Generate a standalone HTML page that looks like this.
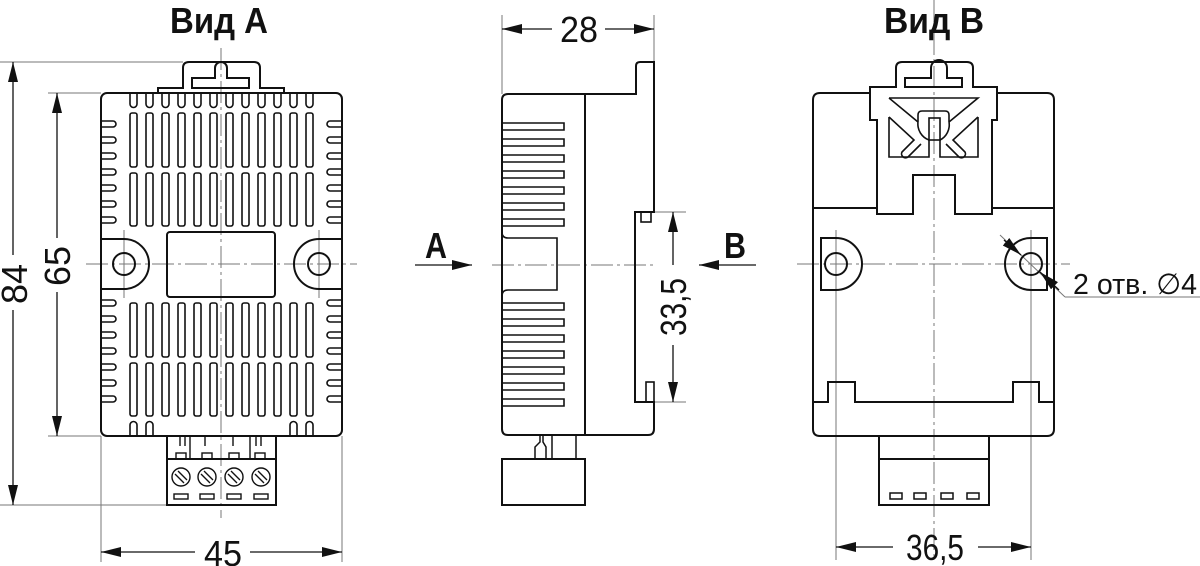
<!DOCTYPE html>
<html><head><meta charset="utf-8"><style>
html,body{margin:0;padding:0;background:#fff;width:1200px;height:566px;overflow:hidden}
svg{display:block}
text{font-family:"Liberation Sans",sans-serif;fill:#111}
</style></head><body>
<svg width="1200" height="566" viewBox="0 0 1200 566" xmlns="http://www.w3.org/2000/svg">
<defs>
<marker id="ar" viewBox="0 0 20 10" refX="20" refY="5" markerWidth="20" markerHeight="10" markerUnits="userSpaceOnUse" orient="auto-start-reverse"><path d="M0,0L20,5L0,10z" fill="#111"/></marker>
</defs>
<g fill="none" stroke="#111">
<!-- ============ LEFT VIEW ============ -->
<g stroke-width="1" stroke="#777">
<line x1="221" y1="48" x2="221" y2="518" stroke-dasharray="22,4,3,4"/>
<line x1="86" y1="264" x2="357" y2="264" stroke-dasharray="22,4,3,4"/>
<line x1="124" y1="230" x2="124" y2="298"/><line x1="319" y1="230" x2="319" y2="298"/>
<line x1="0" y1="62" x2="183" y2="62"/><line x1="0" y1="505" x2="167" y2="505"/>
<line x1="48" y1="93" x2="101" y2="93"/><line x1="48" y1="436" x2="101" y2="436"/>
<line x1="101" y1="436" x2="101" y2="562"/><line x1="342" y1="436" x2="342" y2="562"/>
</g>
<g stroke-width="1.3">
<line x1="13" y1="62" x2="13" y2="255" marker-start="url(#ar)"/><line x1="13" y1="310" x2="13" y2="505" marker-end="url(#ar)"/>
<line x1="57" y1="93" x2="57" y2="238" marker-start="url(#ar)"/><line x1="57" y1="292" x2="57" y2="436" marker-end="url(#ar)"/>
<line x1="101" y1="552" x2="195" y2="552" marker-start="url(#ar)"/><line x1="250" y1="552" x2="342" y2="552" marker-end="url(#ar)"/>
</g>
<g stroke-width="2">
<rect x="101" y="93" width="241" height="343" rx="6"/>
<path d="M158,93V88H183V68Q183,62 189,62H254Q260,62 260,68V88H284V93"/>
<path d="M192,88V78H215V68A6,6 0 0 1 227,68V78H249V88Z"/>
<g stroke-width="1.6">
<path d="M130,94v10a3.5,3.5 0 0 0 7,0v-10M146,94v10a3.5,3.5 0 0 0 7,0v-10M162,94v10a3.5,3.5 0 0 0 7,0v-10M178,94v10a3.5,3.5 0 0 0 7,0v-10M194,94v10a3.5,3.5 0 0 0 7,0v-10M210,94v10a3.5,3.5 0 0 0 7,0v-10M226,94v10a3.5,3.5 0 0 0 7,0v-10M242,94v10a3.5,3.5 0 0 0 7,0v-10M258,94v10a3.5,3.5 0 0 0 7,0v-10M274,94v10a3.5,3.5 0 0 0 7,0v-10M290,94v10a3.5,3.5 0 0 0 7,0v-10M306,94v10a3.5,3.5 0 0 0 7,0v-10"/>
<path d="M130,435v-10a3.5,3.5 0 0 1 7,0v10M146,435v-10a3.5,3.5 0 0 1 7,0v10M290,435v-10a3.5,3.5 0 0 1 7,0v10M306,435v-10a3.5,3.5 0 0 1 7,0v10"/>
<g id="col">
<rect x="130" y="113" width="7" height="54" rx="2"/><rect x="130" y="173" width="7" height="53" rx="2"/>
<rect x="130" y="303" width="7" height="54" rx="2"/><rect x="130" y="363" width="7" height="53" rx="2"/>
</g>
<use href="#col" x="16"/><use href="#col" x="32"/><use href="#col" x="48"/><use href="#col" x="64"/><use href="#col" x="80"/><use href="#col" x="96"/><use href="#col" x="112"/><use href="#col" x="128"/><use href="#col" x="144"/><use href="#col" x="160"/><use href="#col" x="176"/>
<g id="side">
<path d="M102,121h11a3,3 0 0 1 0,6h-11M102,137h11a3,3 0 0 1 0,6h-11M102,153h11a3,3 0 0 1 0,6h-11M102,169h11a3,3 0 0 1 0,6h-11M102,185h11a3,3 0 0 1 0,6h-11M102,201h11a3,3 0 0 1 0,6h-11M102,217h11a3,3 0 0 1 0,6h-11"/>
<path d="M102,300h11a3,3 0 0 1 0,6h-11M102,316h11a3,3 0 0 1 0,6h-11M102,332h11a3,3 0 0 1 0,6h-11M102,348h11a3,3 0 0 1 0,6h-11M102,364h11a3,3 0 0 1 0,6h-11M102,380h11a3,3 0 0 1 0,6h-11M102,396h11a3,3 0 0 1 0,6h-11"/>
</g>
<use href="#side" transform="translate(443,0) scale(-1,1)"/>
</g>
<path d="M101,239H124A25,25 0 0 1 124,289H101"/><circle cx="124" cy="264" r="11"/>
<path d="M342,239H319A25,25 0 0 0 319,289H342"/><circle cx="319" cy="264" r="11"/>
<rect x="167" y="232" width="108" height="65" rx="3"/>
<rect x="167" y="436" width="109" height="69"/>
<line x1="167" y1="459" x2="276" y2="459"/>
<g stroke-width="1.4">
<path d="M180,436v10M185,436v10M205,436v10M233,436v10M256,436v10M261,436v10M190,436v23M250,436v23"/>
<rect x="176" y="453" width="10" height="6"/><rect x="202" y="453" width="10" height="6"/><rect x="229" y="453" width="10" height="6"/><rect x="255" y="453" width="10" height="6"/>
<circle cx="181" cy="477" r="9"/><circle cx="207" cy="477" r="9"/><circle cx="234" cy="477" r="9"/><circle cx="261" cy="477" r="9"/>
<path d="M175,474l9,9M178,471l9,9M201,474l9,9M204,471l9,9M228,474l9,9M231,471l9,9M255,474l9,9M258,471l9,9"/>
<rect x="174" y="494" width="14" height="5"/><rect x="200" y="494" width="14" height="5"/><rect x="227" y="494" width="14" height="5"/><rect x="254" y="494" width="14" height="5"/>
</g>
</g>

<!-- ============ SIDE VIEW ============ -->
<g stroke-width="1" stroke="#777">
<line x1="492" y1="265" x2="655" y2="265" stroke-dasharray="22,4,3,4"/>
<line x1="502" y1="15" x2="502" y2="94"/><line x1="654" y1="15" x2="654" y2="62"/>
<line x1="654" y1="212" x2="686" y2="212"/><line x1="654" y1="402" x2="686" y2="402"/>
</g>
<g stroke-width="1.3">
<line x1="502" y1="29" x2="552" y2="29" marker-start="url(#ar)"/><line x1="605" y1="29" x2="654" y2="29" marker-end="url(#ar)"/>
<line x1="673" y1="212" x2="673" y2="265" marker-start="url(#ar)"/><line x1="673" y1="345" x2="673" y2="402" marker-end="url(#ar)"/>
<line x1="415" y1="265" x2="472" y2="265" marker-end="url(#ar)"/>
<line x1="756" y1="265" x2="699" y2="265" marker-end="url(#ar)"/>
</g>
<g stroke-width="2">
<path d="M636,94V66Q636,62 640,62H654V212H635V402H654V429Q654,435 648,435H508Q502,435 502,429V100Q502,94 508,94Z"/>
<line x1="585" y1="94" x2="585" y2="435"/>
<rect x="641" y="212" width="10" height="10" stroke-width="1.6"/>
<rect x="646" y="382" width="8" height="20" stroke-width="1.6"/>
<g stroke-width="1.6">
<path d="M502,123h62v7h-62M502,139h62v7h-62M502,155h62v7h-62M502,171h62v7h-62M502,187h62v7h-62M502,203h62v7h-62M502,219h62v7h-62"/>
<path d="M502,303h62v7h-62M502,319h62v7h-62M502,335h62v7h-62M502,351h62v7h-62M502,367h62v7h-62M502,383h62v7h-62M502,399h62v7h-62"/>
<path d="M502,232q0,6 6,6H557V290H508q-6,0 -6,6"/>
</g>
<rect x="502" y="459" width="83" height="46"/>
<path d="M535,459v-12l5,-5v-7M546,459v-12l-3,-5v-7M552,435v24M576,435v24" stroke-width="1.5"/>
</g>

<!-- ============ RIGHT VIEW ============ -->
<g stroke-width="1" stroke="#777">
<line x1="934" y1="0" x2="934" y2="557" stroke-dasharray="22,4,3,4"/>
<line x1="797" y1="264" x2="1070" y2="264" stroke-dasharray="22,4,3,4"/>
<line x1="836" y1="230" x2="836" y2="560"/><line x1="1031" y1="230" x2="1031" y2="560"/>
<line x1="1000" y1="235" x2="1065" y2="297"/><line x1="1065" y1="297" x2="1200" y2="297"/>
</g>
<g stroke-width="1.3">
<line x1="836" y1="547" x2="893" y2="547" marker-start="url(#ar)"/><line x1="978" y1="547" x2="1031" y2="547" marker-end="url(#ar)"/>
<line x1="1004" y1="240" x2="1021" y2="255" marker-end="url(#ar)"/>
<line x1="1059" y1="290" x2="1040" y2="272" marker-end="url(#ar)"/>
</g>
<g stroke-width="2">
<path d="M870,93H820Q813,93 813,100V429Q813,436 820,436H1047Q1054,436 1054,429V100Q1054,93 1047,93H997"/>
<line x1="813" y1="208" x2="877" y2="208"/><line x1="992" y1="208" x2="1054" y2="208"/>
<path d="M813,402H828V382H855V402H1013V382H1039V402H1054"/>
<path d="M870,87V120H877V214H913V175H955V214H992V120H997V87H973V68Q973,62 967,62H902Q896,62 896,68V87Z"/>
<path d="M905,87V78H931V68A8,8 0 0 1 947,68V78H962V87Z"/>
<g stroke-width="1.6">
<path d="M889,98H978L949,122M889,98L918,122"/>
<path d="M889,117V157H929V140M978,117V157H940V140"/>
<path d="M889,117L914,140L902,152a4,4 0 0 0 6,5L921,144"/>
<path d="M978,117L953,140L965,152a4,4 0 0 1 -6,5L946,144"/>
<path d="M918,122A17,17 0 0 0 929,140M949,122A17,17 0 0 1 940,140"/>
<path d="M918,122V115Q918,111 922,111H945Q949,111 949,115V122"/>
<rect x="929" y="118" width="11" height="22"/>
</g>
<path d="M821,238H836A26,26 0 0 1 836,290H821Z"/><circle cx="836" cy="264" r="11"/>
<path d="M1047,238H1031A26,26 0 0 0 1031,290H1047Z"/><circle cx="1031" cy="264" r="11"/>
<rect x="879" y="436" width="110" height="69"/>
<line x1="879" y1="459" x2="989" y2="459"/>
<g stroke-width="1.5">
<rect x="890" y="493" width="12" height="6"/><rect x="914" y="493" width="12" height="6"/><rect x="941" y="493" width="12" height="6"/><rect x="967" y="493" width="12" height="6"/>
</g>
</g>
</g>

<!-- TEXT -->
<g font-size="36">
<text x="170" y="33" textLength="98" lengthAdjust="spacingAndGlyphs" font-weight="bold">Вид А</text>
<text x="884" y="33" textLength="100" lengthAdjust="spacingAndGlyphs" font-weight="bold">Вид В</text>
<text x="560" y="42" textLength="38" lengthAdjust="spacingAndGlyphs">28</text>
<text x="204" y="566" textLength="38" lengthAdjust="spacingAndGlyphs">45</text>
<text x="906" y="560" textLength="58" lengthAdjust="spacingAndGlyphs">36,5</text>
<text x="425" y="258" font-weight="bold" textLength="22" lengthAdjust="spacingAndGlyphs">A</text>
<text x="724" y="258" font-weight="bold" textLength="22" lengthAdjust="spacingAndGlyphs">B</text>
<text transform="translate(27,304) rotate(-90)" textLength="40" lengthAdjust="spacingAndGlyphs">84</text>
<text transform="translate(70,286) rotate(-90)" textLength="40" lengthAdjust="spacingAndGlyphs">65</text>
<text transform="translate(686,336) rotate(-90)" textLength="58" lengthAdjust="spacingAndGlyphs">33,5</text>
</g>
<text x="1073" y="294" font-size="29" textLength="124" lengthAdjust="spacingAndGlyphs">2 отв. ∅4</text>
</svg>
</body></html>
